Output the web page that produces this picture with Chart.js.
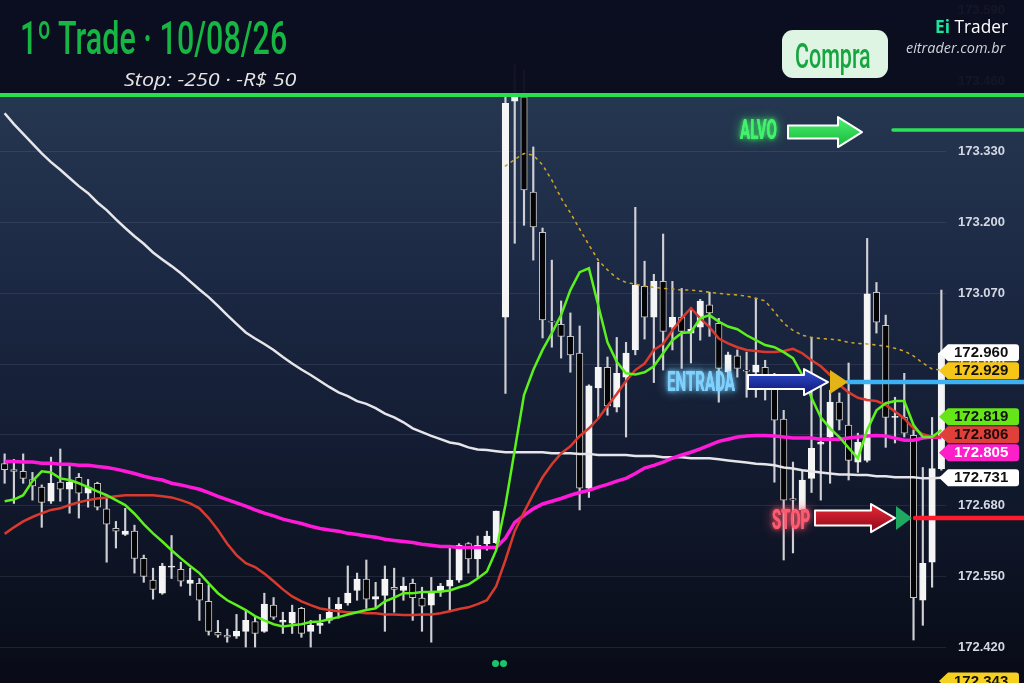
<!DOCTYPE html>
<html>
<head>
<meta charset="utf-8">
<script src="https://cdn.jsdelivr.net/npm/chart.js@4.4.1/dist/chart.umd.min.js"></script>
<style>
  body { margin: 0; background: #0b0f1f; }
  #wrap { position: relative; width: 1024px; height: 683px; overflow: hidden; }
  #chart { position: absolute; left: 0; top: 0; }
  #header { position: absolute; left: 0; top: 0; width: 1024px; height: 93px; background: rgba(10, 13, 29, 0.955); }
  #rule { position: absolute; left: 0; top: 93px; width: 1024px; height: 3.5px; background: #27e04e; }
  .fit { position: absolute; white-space: nowrap; transform-origin: 0 0; line-height: 1; }
  #title { left: 20px; top: 11px; font: 500 46px Roboto; color: #16b544; }
  #sub { left: 124px; top: 66px; font: italic 400 19px "Open Sans"; color: #e6e6e6; }
  #badge { position: absolute; left: 782px; top: 30px; width: 106px; height: 48px; border-radius: 11px; background: #dff5e4; }
  #buy { left: 795px; top: 36px; font: 500 35px Roboto; color: #17a540; }
  #brand { left: 935px; top: 14px; font: 400 18px "Open Sans"; color: #ffffff; }
  #brand b { color: #1ee39b; font-weight: 700; }
  #site { left: 906px; top: 38px; font: italic 400 14px "Open Sans"; color: #cfd3da; }
  .dot { position: absolute; top: 660px; width: 7px; height: 7px; border-radius: 50%; background: #1dc26d; }
</style>
</head>
<body>
<div id="wrap">
  <canvas id="chart" width="1024" height="683"></canvas>
  <div id="header"></div>
  <div id="rule"></div>
  <div class="fit" id="title" data-w="267">1º Trade · 10/08/26</div>
  <div class="fit" id="sub" data-w="172">Stop: -250 · -R$ 50</div>
  <div id="badge"></div>
  <div class="fit" id="buy" data-w="76">Compra</div>
  <div class="fit" id="brand" data-w="73"><b>Ei</b> Trader</div>
  <div class="fit" id="site" data-w="99">eitrader.com.br</div>
  <div class="dot" style="left:492px"></div>
  <div class="dot" style="left:500px"></div>
</div>
<script>
// candles, one per bar
const opens = [
  172.757, 172.746, 172.743, 172.728, 172.714, 172.688, 172.723, 172.710, 172.732, 172.703,
  172.721, 172.674, 172.638, 172.627, 172.633, 172.583, 172.543, 172.519, 172.567, 172.563,
  172.537, 172.537, 172.504, 172.447, 172.442, 172.440, 172.449, 172.467, 172.449, 172.497,
  172.466, 172.464, 172.491, 172.449, 172.460, 172.469, 172.490, 172.501, 172.524, 172.545,
  172.508, 172.515, 172.530, 172.524, 172.537, 172.510, 172.497, 172.521, 172.532, 172.543,
  172.610, 172.582, 172.610, 172.612, 173.026, 173.423, 173.431, 173.256, 173.182, 173.019,
  173.013, 172.991, 172.960, 172.712, 172.896, 172.934, 172.861, 172.916, 172.966, 173.083,
  173.026, 173.092, 173.008, 173.026, 172.997, 173.008, 173.049, 173.015, 172.925, 172.955,
  172.929, 172.925, 172.934, 172.914, 172.839, 172.693, 172.672, 172.730, 172.793, 172.806,
  172.870, 172.828, 172.760, 172.763, 173.072, 173.011, 172.842, 172.842, 172.809, 172.506,
  172.576, 172.748
];
const highs = [
  172.775, 172.765, 172.775, 172.741, 172.718, 172.769, 172.784, 172.752, 172.739, 172.728,
  172.723, 172.699, 172.651, 172.675, 172.644, 172.589, 172.565, 172.574, 172.625, 172.576,
  172.565, 172.546, 172.534, 172.469, 172.453, 172.480, 172.486, 172.475, 172.519, 172.511,
  172.484, 172.497, 172.493, 172.469, 172.480, 172.511, 172.511, 172.569, 172.556, 172.580,
  172.539, 172.569, 172.565, 172.548, 172.545, 172.530, 172.548, 172.537, 172.603, 172.610,
  172.612, 172.624, 172.633, 172.670, 173.431, 173.490, 173.480, 173.339, 173.190, 173.131,
  173.056, 173.034, 173.010, 172.902, 173.127, 172.953, 172.989, 172.980, 173.228, 173.129,
  173.105, 173.179, 173.092, 173.079, 173.041, 173.059, 173.072, 173.024, 172.962, 172.966,
  172.962, 173.061, 172.947, 172.923, 172.855, 172.760, 172.745, 172.989, 172.914, 172.892,
  172.887, 172.942, 172.813, 173.171, 173.090, 173.030, 172.879, 172.923, 172.819, 172.750,
  172.842, 173.076
];
const lows = [
  172.721, 172.684, 172.721, 172.690, 172.640, 172.684, 172.688, 172.666, 172.657, 172.677,
  172.672, 172.576, 172.602, 172.625, 172.556, 172.539, 172.508, 172.517, 172.546, 172.532,
  172.515, 172.469, 172.442, 172.438, 172.429, 172.436, 172.420, 172.420, 172.447, 172.471,
  172.445, 172.445, 172.438, 172.420, 172.445, 172.464, 172.473, 172.497, 172.506, 172.491,
  172.491, 172.449, 172.484, 172.506, 172.469, 172.449, 172.429, 172.513, 172.486, 172.539,
  172.556, 172.548, 172.598, 172.610, 172.886, 173.162, 173.195, 173.131, 172.988, 172.971,
  172.951, 172.925, 172.672, 172.695, 172.840, 172.846, 172.852, 172.806, 172.957, 172.986,
  172.906, 172.929, 172.966, 172.932, 172.942, 172.984, 172.991, 172.870, 172.911, 172.916,
  172.879, 172.879, 172.874, 172.723, 172.580, 172.593, 172.666, 172.704, 172.690, 172.721,
  172.819, 172.727, 172.741, 172.760, 172.997, 172.787, 172.795, 172.806, 172.433, 172.460,
  172.530, 172.745
];
const closes = [
  172.746, 172.743, 172.730, 172.716, 172.686, 172.721, 172.710, 172.723, 172.703, 172.714,
  172.677, 172.646, 172.633, 172.633, 172.583, 172.550, 172.526, 172.569, 172.569, 172.541,
  172.543, 172.506, 172.449, 172.442, 172.438, 172.449, 172.469, 172.445, 172.499, 172.475,
  172.469, 172.484, 172.445, 172.460, 172.464, 172.484, 172.499, 172.519, 172.545, 172.508,
  172.513, 172.545, 172.526, 172.532, 172.511, 172.495, 172.519, 172.532, 172.543, 172.607,
  172.582, 172.607, 172.624, 172.670, 173.419, 173.432, 173.260, 173.192, 173.021, 173.017,
  172.991, 172.957, 172.712, 172.900, 172.934, 172.863, 172.923, 172.960, 173.085, 173.026,
  173.092, 173.000, 173.026, 173.000, 173.004, 173.056, 173.034, 172.932, 172.957, 172.932,
  172.927, 172.938, 172.898, 172.837, 172.690, 172.690, 172.727, 172.785, 172.796, 172.870,
  172.837, 172.763, 172.796, 173.069, 173.017, 172.842, 172.844, 172.813, 172.511, 172.574,
  172.748, 172.960
];

// moving averages
const emaFast = [
  172.688, 172.691, 172.699, 172.725, 172.743, 172.741, 172.730, 172.727, 172.721, 172.714,
  172.706, 172.699, 172.690, 172.681, 172.665, 172.646, 172.629, 172.614, 172.598, 172.583,
  172.569, 172.556, 172.537, 172.519, 172.506, 172.497, 172.488, 172.477, 172.469, 172.462,
  172.458, 172.460, 172.462, 172.466, 172.467, 172.471, 172.475, 172.480, 172.484, 172.488,
  172.491, 172.504, 172.511, 172.519, 172.519, 172.521, 172.521, 172.522, 172.524, 172.530,
  172.535, 172.546, 172.559, 172.598, 172.681, 172.782, 172.883, 172.929, 172.966, 172.997,
  173.030, 173.076, 173.109, 173.116, 173.048, 172.980, 172.944, 172.923, 172.921, 172.925,
  172.936, 172.960, 172.984, 172.997, 172.999, 173.024, 173.030, 173.018, 173.009, 173.004,
  172.993, 172.984, 172.975, 172.971, 172.962, 172.951, 172.920, 172.878, 172.842, 172.822,
  172.806, 172.786, 172.767, 172.819, 172.855, 172.868, 172.872, 172.872, 172.828, 172.806,
  172.806, 172.819
];
const emaMid = [
  172.628, 172.640, 172.651, 172.659, 172.666, 172.672, 172.675, 172.681, 172.686, 172.690,
  172.693, 172.695, 172.697, 172.699, 172.699, 172.699, 172.699, 172.697, 172.695, 172.690,
  172.684, 172.675, 172.657, 172.635, 172.610, 172.589, 172.574, 172.567, 172.555, 172.541,
  172.526, 172.513, 172.504, 172.497, 172.491, 172.488, 172.486, 172.484, 172.484, 172.482,
  172.482, 172.480, 172.480, 172.479, 172.479, 172.480, 172.480, 172.482, 172.486, 172.490,
  172.493, 172.499, 172.506, 172.532, 172.580, 172.633, 172.668, 172.701, 172.732, 172.756,
  172.776, 172.789, 172.808, 172.822, 172.840, 172.863, 172.885, 172.909, 172.929, 172.941,
  172.966, 172.977, 173.002, 173.024, 173.043, 173.024, 173.008, 172.987, 172.978, 172.971,
  172.966, 172.964, 172.962, 172.962, 172.964, 172.968, 172.960, 172.947, 172.936, 172.920,
  172.902, 172.888, 172.878, 172.874, 172.872, 172.865, 172.853, 172.840, 172.822, 172.811,
  172.806, 172.806
];
const smaSlow = [
  172.761, 172.761, 172.760, 172.760, 172.758, 172.758, 172.756, 172.756, 172.754, 172.754,
  172.752, 172.750, 172.747, 172.743, 172.739, 172.734, 172.730, 172.727, 172.721, 172.718,
  172.714, 172.710, 172.704, 172.697, 172.691, 172.685, 172.679, 172.672, 172.666, 172.661,
  172.655, 172.651, 172.647, 172.642, 172.638, 172.635, 172.633, 172.629, 172.627, 172.624,
  172.622, 172.618, 172.616, 172.614, 172.612, 172.609, 172.607, 172.605, 172.605, 172.603,
  172.603, 172.603, 172.603, 172.603, 172.620, 172.649, 172.662, 172.674, 172.683, 172.688,
  172.693, 172.699, 172.704, 172.708, 172.714, 172.719, 172.725, 172.730, 172.739, 172.749,
  172.754, 172.760, 172.767, 172.773, 172.778, 172.784, 172.791, 172.798, 172.802, 172.806,
  172.808, 172.809, 172.809, 172.808, 172.806, 172.804, 172.804, 172.804, 172.802, 172.802,
  172.802, 172.804, 172.806, 172.808, 172.809, 172.808, 172.804, 172.800, 172.800, 172.804,
  172.806, 172.805
];
const smaLong = [
  173.401, 173.381, 173.363, 173.345, 173.327, 173.311, 173.297, 173.282, 173.267, 173.254,
  173.237, 173.223, 173.206, 173.190, 173.175, 173.161, 173.145, 173.132, 173.120, 173.107,
  173.092, 173.077, 173.063, 173.047, 173.030, 173.014, 172.998, 172.987, 172.977, 172.966,
  172.953, 172.941, 172.930, 172.920, 172.909, 172.898, 172.888, 172.881, 172.872, 172.867,
  172.859, 172.849, 172.842, 172.833, 172.822, 172.815, 172.808, 172.802, 172.796, 172.793,
  172.787, 172.783, 172.782, 172.780, 172.778, 172.778, 172.778, 172.778, 172.778, 172.776,
  172.776, 172.776, 172.775, 172.775, 172.773, 172.773, 172.773, 172.773, 172.771, 172.771,
  172.771, 172.769, 172.769, 172.769, 172.767, 172.767, 172.767, 172.765, 172.763, 172.761,
  172.759, 172.757, 172.756, 172.754, 172.750, 172.748, 172.745, 172.743, 172.741, 172.739,
  172.737, 172.737, 172.736, 172.736, 172.734, 172.734, 172.732, 172.732, 172.732, 172.730,
  172.730, 172.731
];
// vwap only starts at bar 55
const vwapStart = 54;
const vwap = [
  173.304, 173.316, 173.327, 173.324, 173.306, 173.278, 173.245, 173.218, 173.188, 173.159,
  173.131, 173.113, 173.098, 173.090, 173.087, 173.083, 173.081, 173.079, 173.078, 173.076,
  173.076, 173.074, 173.072, 173.070, 173.068, 173.067, 173.065, 173.061, 173.056, 173.036,
  173.015, 173.002, 172.993, 172.989, 172.987, 172.986, 172.984, 172.980, 172.978, 172.977,
  172.975, 172.973, 172.969, 172.964, 172.955, 172.942, 172.931, 172.929
];

const tickValues = [172.42, 172.55, 172.68, 172.81, 172.94, 173.07, 173.20, 173.33, 173.46, 173.59];
const yMin = 172.354;
const yMax = 173.609;

// trade levels
const alvo = 173.370;
const entrada = 172.907;
const stop = 172.657;

// price tags on the right axis
const tagValues = [172.960, 172.929, 172.819, 172.806, 172.805, 172.731, 172.343];
const tagColors = ['#ffffff', '#f5c518', '#66e619', '#e0403a', '#ff1fc8', '#ffffff', '#f5d020'];
const tagText = ['#111111', '#111111', '#111111', '#1a0a0a', '#ffffff', '#111111', '#111111'];

const labels = opens.map((_, i) => i + 1);
const bull = opens.map((o, i) => closes[i] >= o);

function hline(ctx, x0, x1, y, color, w) {
  ctx.save();
  ctx.strokeStyle = color;
  ctx.lineWidth = w;
  ctx.lineCap = 'round';
  ctx.beginPath();
  ctx.moveTo(x0, y);
  ctx.lineTo(x1, y);
  ctx.stroke();
  ctx.restore();
}

function arrow(ctx, x0, x1, yc, shaftH, headH, headLen, c1, c2) {
  const hx = x1 - headLen;
  ctx.save();
  const g = ctx.createLinearGradient(0, yc - headH / 2, 0, yc + headH / 2);
  g.addColorStop(0, c1);
  g.addColorStop(1, c2);
  ctx.beginPath();
  ctx.moveTo(x0, yc - shaftH / 2);
  ctx.lineTo(hx, yc - shaftH / 2);
  ctx.lineTo(hx, yc - headH / 2);
  ctx.lineTo(x1, yc);
  ctx.lineTo(hx, yc + headH / 2);
  ctx.lineTo(hx, yc + shaftH / 2);
  ctx.lineTo(x0, yc + shaftH / 2);
  ctx.closePath();
  ctx.fillStyle = g;
  ctx.fill();
  ctx.strokeStyle = '#ffffff';
  ctx.lineWidth = 2;
  ctx.lineJoin = 'round';
  ctx.stroke();
  ctx.restore();
}

function triangle(ctx, x0, x1, yc, h, color) {
  ctx.save();
  ctx.beginPath();
  ctx.moveTo(x0, yc - h / 2);
  ctx.lineTo(x1, yc);
  ctx.lineTo(x0, yc + h / 2);
  ctx.closePath();
  ctx.fillStyle = color;
  ctx.fill();
  ctx.restore();
}

function glowText(ctx, text, x, base, w, color) {
  ctx.save();
  ctx.font = 'bold 27px Roboto';
  const s = w / ctx.measureText(text).width;
  ctx.translate(x, base);
  ctx.scale(s, 1);
  ctx.textBaseline = 'alphabetic';
  ctx.fillStyle = color;
  ctx.shadowColor = color;
  ctx.shadowBlur = 12;
  ctx.fillText(text, 0, 0);
  ctx.shadowBlur = 4;
  ctx.fillText(text, 0, 0);
  ctx.restore();
}

function drawTags(ctx, scale) {
  const items = tagValues.map((v, i) => ({ i, p: scale.getPixelForValue(v) }));
  items.sort((a, b) => a.p - b.p);
  for (let k = 0; k < 60; k++) {
    for (let j = 0; j < items.length - 1; j++) {
      const d = items[j + 1].p - items[j].p;
      if (d < 18) {
        const m = (18 - d) / 2;
        items[j].p -= m;
        items[j + 1].p += m;
      }
    }
  }
  ctx.save();
  ctx.font = 'bold 15px "Liberation Sans"';
  ctx.textBaseline = 'middle';
  items.forEach(t => {
    const yc = Math.min(t.p, 681);
    ctx.beginPath();
    ctx.moveTo(939, yc);
    ctx.lineTo(948, yc - 8.5);
    ctx.lineTo(1016, yc - 8.5);
    ctx.quadraticCurveTo(1019, yc - 8.5, 1019, yc - 5.5);
    ctx.lineTo(1019, yc + 5.5);
    ctx.quadraticCurveTo(1019, yc + 8.5, 1016, yc + 8.5);
    ctx.lineTo(948, yc + 8.5);
    ctx.closePath();
    ctx.fillStyle = tagColors[t.i];
    ctx.fill();
    ctx.fillStyle = tagText[t.i];
    ctx.fillText(tagValues[t.i].toFixed(3), 954, yc + 0.5);
  });
  ctx.restore();
}

const overlay = {
  id: 'overlay',
  beforeDraw(chart) {
    const { ctx, width, height } = chart;
    const g = ctx.createLinearGradient(0, 0, 0, height);
    g.addColorStop(0, '#2a3c58');
    g.addColorStop(0.15, '#253650');
    g.addColorStop(0.4, '#1c2944');
    g.addColorStop(0.65, '#131c32');
    g.addColorStop(1, '#080b16');
    ctx.save();
    ctx.fillStyle = g;
    ctx.fillRect(0, 0, width, height);
    ctx.restore();
  },
  afterDraw(chart) {
    const ctx = chart.ctx;
    const y = chart.scales.y;
    const yAlvo = y.getPixelForValue(alvo);
    const yEntrada = y.getPixelForValue(entrada);
    const yStop = y.getPixelForValue(stop);

    hline(ctx, 893, 1024, yAlvo, '#2be357', 3.5);
    hline(ctx, 848, 1024, yEntrada, '#3cb2f2', 4.5);
    hline(ctx, 915, 1024, yStop, '#ff1b2b', 4.5);

    arrow(ctx, 788, 862, yAlvo + 2, 13, 30, 24, '#4cf06e', '#17b83b');
    arrow(ctx, 748, 828, yEntrada, 14, 26, 24, '#3550d6', '#0c1670');
    arrow(ctx, 815, 895, yStop, 15, 28, 24, '#e8283a', '#8e0a16');
    triangle(ctx, 830, 848, yEntrada, 24, '#e4b416');
    triangle(ctx, 896, 912, yStop, 24, '#1fa862');

    glowText(ctx, 'ALVO', 740, yAlvo + 9, 37, '#42f26c');
    glowText(ctx, 'ENTRADA', 667, yEntrada + 9, 68, '#7fd2ff');
    glowText(ctx, 'STOP', 772, yStop + 11, 38, '#ff5a70');

    drawTags(ctx, y);
  }
};

const ctx = document.getElementById('chart').getContext('2d');

new Chart(ctx, {
  type: 'bar',
  data: {
    labels: labels,
    datasets: [
      {
        type: 'line',
        label: 'Média rápida',
        data: emaFast,
        borderColor: '#5cf01c',
        borderWidth: 2.5,
        pointRadius: 0,
        tension: 0,
        order: 0,
      },
      {
        type: 'line',
        label: 'Média 20',
        data: emaMid,
        borderColor: '#d83a2e',
        borderWidth: 2.5,
        pointRadius: 0,
        tension: 0,
        order: 1,
      },
      {
        type: 'line',
        label: 'Média 50',
        data: smaSlow,
        borderColor: '#ff1ad9',
        borderWidth: 3.5,
        pointRadius: 0,
        tension: 0,
        order: 2,
      },
      {
        type: 'line',
        label: 'Média 200',
        data: smaLong,
        borderColor: '#e6e6ea',
        borderWidth: 2.5,
        pointRadius: 0,
        tension: 0,
        order: 3,
      },
      {
        type: 'line',
        label: 'VWAP',
        data: labels.map((_, i) => (i < vwapStart ? null : vwap[i - vwapStart])),
        borderColor: '#c9a227',
        borderWidth: 1.6,
        borderDash: [2, 5],
        borderCapStyle: 'round',
        pointRadius: 0,
        tension: 0,
        spanGaps: false,
        order: 4,
      },
      {
        label: 'Corpo',
        data: opens.map((o, i) => [o, closes[i]]),
        backgroundColor: bull.map(b => (b ? '#f5f5f5' : '#050507')),
        borderColor: bull.map(b => (b ? '#f5f5f5' : '#c4c4c4')),
        borderWidth: 1,
        borderSkipped: false,
        barThickness: 6.5,
        grouped: false,
        order: 5,
      },
      {
        label: 'Pavio',
        data: lows.map((l, i) => [l, highs[i]]),
        backgroundColor: '#cfcfd4',
        borderWidth: 0,
        barThickness: 1.5,
        grouped: false,
        order: 6,
      },
    ],
  },
  options: {
    responsive: false,
    animation: false,
    layout: { padding: 0, autoPadding: false },
    plugins: {
      legend: { display: false },
      tooltip: { enabled: false },
    },
    scales: {
      x: {
        display: false,
        offset: true,
        grid: { display: false },
      },
      y: {
        position: 'right',
        min: yMin,
        max: yMax,
        afterFit(scale) {
          scale.width = 78;
          scale.paddingTop = 0;
          scale.paddingBottom = 0;
        },
        afterBuildTicks(scale) {
          scale.ticks = tickValues.map(v => ({ value: v }));
        },
        border: { display: false },
        grid: {
          color: 'rgba(160, 175, 200, 0.13)',
          drawTicks: false,
        },
        ticks: {
          color: '#d4d8e4',
          padding: 12,
          font: { family: 'Liberation Sans', size: 13, weight: 'bold' },
          callback: v => Number(v).toFixed(3),
        },
      },
    },
  },
  plugins: [overlay],
});

document.querySelectorAll('.fit').forEach(el => {
  const w = Number(el.dataset.w);
  el.style.transform = `scaleX(${w / el.offsetWidth})`;
});
</script>
</body>
</html>
